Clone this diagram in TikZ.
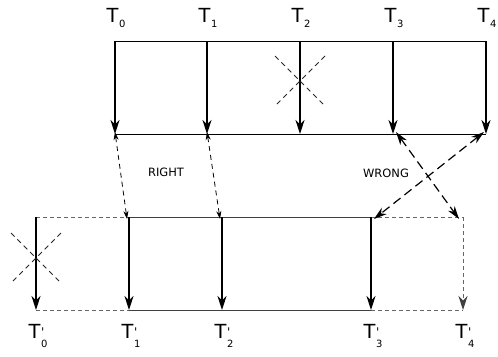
\documentclass[tikz,border=0pt]{standalone}
\usepackage{fontspec}
\setmainfont{DejaVu Sans}
\newfontfamily\primefont{DejaVu Sans}
\usetikzlibrary{arrows.meta}
\newcommand{\Tl}[1]{T\kern0.5bp\raisebox{-5bp}{\fontsize{10}{10}\selectfont #1}}
\newcommand{\Tp}[1]{T\kern0.5bp\rlap{\raisebox{2bp}{\fontsize{12}{12}\primefont\symbol{39}}}\raisebox{-9bp}{\fontsize{10}{10}\selectfont #1}}
\tikzset{
  tlabel/.style={font=\fontsize{19.5}{20}\selectfont, inner sep=0pt, anchor=base},
  wlabel/.style={font=\fontsize{11.5}{12}\selectfont, inner sep=0pt},
  hline/.style={line width=0.9pt},
  varrow/.style={line width=1.2pt, -{Stealth[length=14bp,width=9bp,inset=4.5bp]}},
  gline/.style={line width=1pt, draw=black!60, dash pattern=on 4bp off 3bp},
  garrow/.style={line width=1pt, draw=black!60, dash pattern=on 4bp off 3bp, -{Stealth[length=14bp,width=9bp,inset=4.5bp,color=black!75,fill=black!75]}},
  rarrow/.style={line width=0.8pt, dash pattern=on 5bp off 4bp, {Stealth[length=8bp,width=5bp,inset=2.5bp]}-{Stealth[length=8bp,width=5bp,inset=2.5bp]}},
  warrow/.style={line width=1.2pt, dash pattern=on 9bp off 5bp, {Stealth[length=13bp,width=8bp,inset=4bp]}-{Stealth[length=13bp,width=8bp,inset=4bp]}},
  xline/.style={line width=0.75pt, black!85, dash pattern=on 5bp off 4bp},
}
\begin{document}
\begin{tikzpicture}[x=1bp,y=-1bp]
\useasboundingbox (0,0) rectangle (498,356);
% top timeline coordinates
\foreach \i/\x in {0/115,1/207,2/300,3/393,4/486}{
  \coordinate (a\i) at (\x,41);
  \coordinate (b\i) at (\x,134);
}
\foreach \i/\x in {0/36,1/129,2/222,3/371,4/463}{
  \coordinate (c\i) at (\x,217);
  \coordinate (d\i) at (\x,310);
}
% labels top
\node[tlabel] (t0) at (116,22) {\Tl{0}};
\node[tlabel] (t1) at (208,22) {\Tl{1}};
\node[tlabel] (t2) at (301,22) {\Tl{2}};
\node[tlabel] (t3) at (394,22) {\Tl{3}};
\node[tlabel] (t4) at (487,22) {\Tl{4}};
% labels bottom
\node[tlabel] (p0) at (38,338) {\Tp{0}};
\node[tlabel] (p1) at (131,338) {\Tp{1}};
\node[tlabel] (p2) at (224,338) {\Tp{2}};
\node[tlabel] (p3) at (373,338) {\Tp{3}};
\node[tlabel] (p4) at (465,338) {\Tp{4}};
% top box
\draw[hline] (a0) -- (a4);
\draw[hline] (b0) -- (b4);
\foreach \i in {0,...,4}{ \draw[varrow] (a\i) -- (b\i); }
% cross top
\draw[xline] (275,56) -- (325,106);
\draw[xline] (325,56) -- (275,106);
% bottom box
\draw[hline, black!75] (c1) -- (c3);
\draw[hline, black!75] (d1) -- (d3);
\draw[gline] (c0) -- (c1);
\draw[gline] (d0) -- (d1);
\draw[gline] (c3) -- (c4);
\draw[gline] (d3) -- (d4);
\foreach \i in {0,1,2,3}{ \draw[varrow] (c\i) -- (d\i); }
\draw[garrow] (c4) -- (d4);
% cross bottom
\draw[xline] (11,233) -- (61,283);
\draw[xline] (61,233) -- (11,283);
% RIGHT arrows
\draw[rarrow] ([yshift=2bp]b0) -- ([xshift=-2bp,yshift=-2bp]c1);
\draw[rarrow] ([yshift=2bp]b1) -- ([xshift=-2bp,yshift=-2bp]c2);
\node[wlabel] (right) at (166,172) {RIGHT};
% WRONG arrows
\draw[warrow] ([xshift=3bp,yshift=2bp]b3) -- ([xshift=-4bp,yshift=-2bp]c4);
\draw[warrow] ([xshift=-2bp,yshift=2bp]b4) -- ([xshift=3bp,yshift=-2bp]c3);
\node[wlabel] (wrong) at (386,173) {WRONG};
\end{tikzpicture}
\end{document}
